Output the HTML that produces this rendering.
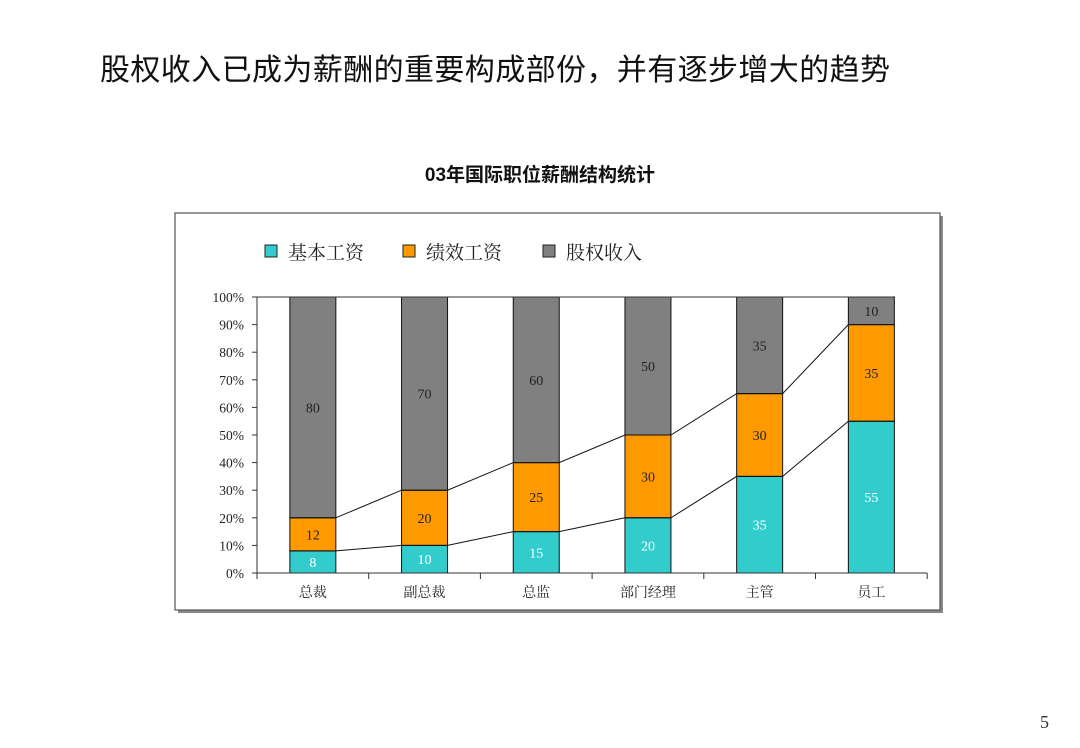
<!DOCTYPE html>
<html><head><meta charset="utf-8"><style>
body{margin:0;background:#fff;width:1080px;height:748px;overflow:hidden;position:relative;font-family:"Liberation Serif","Noto Serif CJK SC",serif}
.t{position:absolute;left:100px;top:45px;font-size:30px;color:#111;font-family:"Liberation Sans","Noto Sans CJK SC",sans-serif;letter-spacing:0.4px}
.ct{position:absolute;left:0;width:1080px;top:160px;text-align:center;font-size:19px;font-weight:bold;font-family:"Liberation Sans","Noto Sans CJK SC",sans-serif;color:#111}
.pg{position:absolute;left:1040px;top:712px;font-size:18px;color:#333}
</style></head><body>
<div class="t">股权收入已成为薪酬的重要构成部份，并有逐步增大的趋势</div>
<div class="ct">03年国际职位薪酬结构统计</div>
<div class="pg">5</div>
<svg width="1080" height="748" style="position:absolute;left:0;top:0" font-family="'Liberation Serif','Noto Serif CJK SC',serif">
<rect x="178" y="216" width="765" height="397" fill="#888"/>
<rect x="175" y="213" width="765" height="397" fill="#fff" stroke="#555" stroke-width="1.2"/>
<g font-size="19" fill="#222" font-family="'Liberation Sans','Noto Serif CJK SC',serif">
<rect x="265" y="245" width="12" height="12" fill="#33cccc" stroke="#222"/><text x="288" y="259">基本工资</text>
<rect x="403" y="245" width="12" height="12" fill="#ff9900" stroke="#222"/><text x="426" y="259">绩效工资</text>
<rect x="543" y="245" width="12" height="12" fill="#808080" stroke="#222"/><text x="566" y="259">股权收入</text>
</g>
<g id="bars" stroke="#111" stroke-width="1"></g>
<line x1="257" y1="297" x2="893" y2="297" stroke="#333"/>
<line x1="257" y1="297" x2="257" y2="573" stroke="#333"/>
<line x1="257" y1="573" x2="927" y2="573" stroke="#333"/>
<g id="ax" font-size="13.5" fill="#222" text-anchor="end"></g>
<g id="lines" stroke="#111" fill="none" stroke-width="1"></g>
<g id="cat" font-size="14" fill="#222" text-anchor="middle"></g>
</svg>
<script>
var ns="http://www.w3.org/2000/svg";
function el(p,t,a,tx){var e=document.createElementNS(ns,t);for(var k in a)e.setAttribute(k,a[k]);if(tx!=null)e.textContent=tx;document.getElementById(p).appendChild(e);return e;}
var y0=573,h=2.76;function Y(v){return y0-v*h;}
for(var i=0;i<=10;i++){el("ax","line",{x1:252,x2:257,y1:Y(i*10),y2:Y(i*10),stroke:"#333"});el("ax","text",{x:244,y:Y(i*10)+5},i*10+"%");}
var data=[[8,12,80],[10,20,70],[15,25,60],[20,30,50],[35,30,35],[55,35,10]];
var names=["总裁","副总裁","总监","部门经理","主管","员工"];
var cols=["#33cccc","#ff9900","#808080"];
var cw=111.7,bw=46;
for(var i=0;i<=6;i++){el("ax","line",{x1:257+i*cw,x2:257+i*cw,y1:573,y2:579,stroke:"#333"});}
var p1=[],p2=[];
data.forEach(function(d,i){var cx=257+cw*(i+0.5),x=cx-bw/2,acc=0;
d.forEach(function(v,j){el("bars","rect",{x:x,y:Y(acc+v),width:bw,height:v*h,fill:cols[j]});
el("cat","text",{x:cx,y:Y(acc+v/2)+5,fill:j==0?"#fff":"#222","font-size":14},v);acc+=v;});
p1.push([x,Y(d[0])],[x+bw,Y(d[0])]);p2.push([x,Y(d[0]+d[1])],[x+bw,Y(d[0]+d[1])]);
el("cat","text",{x:cx,y:597},names[i]);});
el("lines","polyline",{points:p1.join(" ")});el("lines","polyline",{points:p2.join(" ")});
</script>
</body></html>
